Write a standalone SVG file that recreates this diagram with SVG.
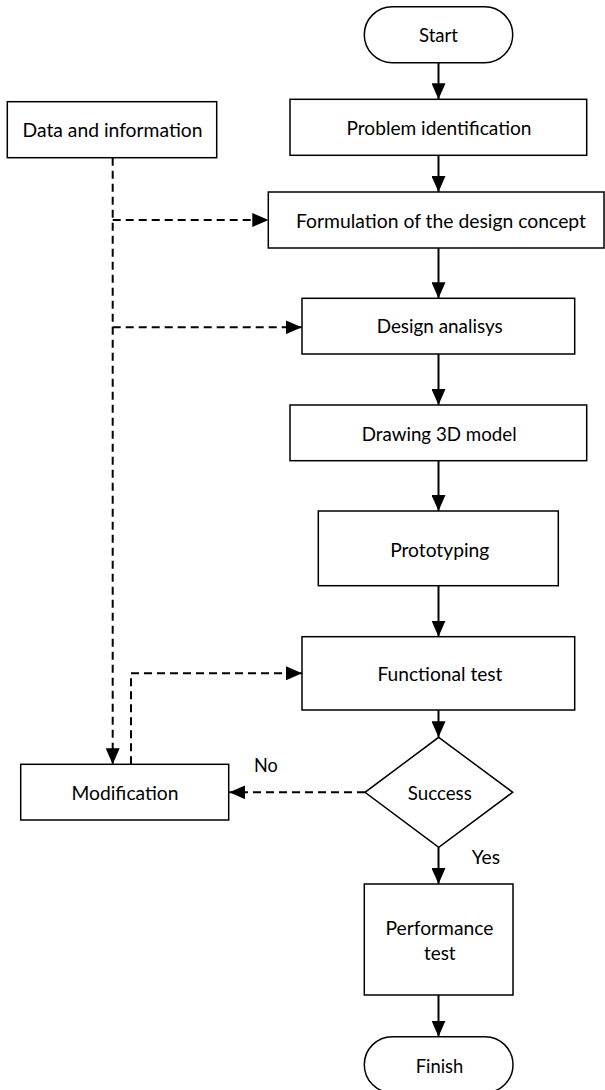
<svg xmlns="http://www.w3.org/2000/svg" width="605" height="1090" viewBox="0 0 605 1090">
<defs>
<style>
.box{fill:#fff;stroke:#000;stroke-width:1.5}
.t{font-family:Lato,"Liberation Sans",sans-serif;font-size:18.5px;fill:#000;text-anchor:middle}
.c{fill:none;stroke:#000;stroke-width:2}
.d{fill:none;stroke:#000;stroke-width:2;stroke-dasharray:8 5}
</style>
<marker id="ah" markerUnits="userSpaceOnUse" markerWidth="16" markerHeight="14" refX="16" refY="7" orient="auto">
<path d="M0,0 L16,7 L0,14 Z" fill="#000"/>
</marker>
</defs>
<rect width="605" height="1090" fill="#fff"/>
<g id="connectors">
<line class="c" x1="438.5" y1="62.7" x2="438.5" y2="99.3" marker-end="url(#ah)"/>
<line class="c" x1="438.5" y1="155.3" x2="438.5" y2="192" marker-end="url(#ah)"/>
<line class="c" x1="438.5" y1="248" x2="438.5" y2="298.3" marker-end="url(#ah)"/>
<line class="c" x1="438.5" y1="354" x2="438.5" y2="405" marker-end="url(#ah)"/>
<line class="c" x1="438.5" y1="460.7" x2="438.5" y2="511" marker-end="url(#ah)"/>
<line class="c" x1="438.5" y1="585.7" x2="438.5" y2="636.7" marker-end="url(#ah)"/>
<line class="c" x1="438.5" y1="710" x2="438.5" y2="737.3" marker-end="url(#ah)"/>
<line class="c" x1="438.5" y1="847.3" x2="438.5" y2="884" marker-end="url(#ah)"/>
<line class="c" x1="438.5" y1="995" x2="438.5" y2="1036.7" marker-end="url(#ah)"/>
<line class="d" x1="112.7" y1="157.7" x2="112.7" y2="764.3" marker-end="url(#ah)"/>
<line class="d" x1="112.7" y1="220" x2="268.3" y2="220" marker-end="url(#ah)"/>
<line class="d" x1="112.7" y1="327.3" x2="301.7" y2="327.3" marker-end="url(#ah)"/>
<polyline class="d" points="131,764.3 131,673.3 302,673.3" marker-end="url(#ah)"/>
<line class="d" x1="365" y1="792.3" x2="229.3" y2="792.3" marker-end="url(#ah)"/>
</g>
<g id="start"><rect class="box" x="364.3" y="6.7" width="148.4" height="56" rx="28" ry="28"/><text class="t" x="438.5" y="42" textLength="39" lengthAdjust="spacingAndGlyphs">Start</text></g>
<g id="problem"><rect class="box" x="290" y="99.3" width="296.7" height="56"/><text class="t" x="439" y="135" textLength="185" lengthAdjust="spacingAndGlyphs">Problem identification</text></g>
<g id="data"><rect class="box" x="7.3" y="101.7" width="209.4" height="56"/><text class="t" x="112.5" y="136.7" textLength="180" lengthAdjust="spacingAndGlyphs">Data and information</text></g>
<g id="formulation"><rect class="box" x="268.3" y="192" width="335.7" height="56"/><text class="t" x="441" y="227.7" textLength="290" lengthAdjust="spacingAndGlyphs">Formulation of the design concept</text></g>
<g id="design"><rect class="box" x="302" y="298.3" width="272.7" height="55.7"/><text class="t" x="439.7" y="333.3" textLength="126" lengthAdjust="spacingAndGlyphs">Design analisys</text></g>
<g id="drawing"><rect class="box" x="290" y="405" width="296.7" height="55.7"/><text class="t" x="439.2" y="441.3" textLength="155" lengthAdjust="spacingAndGlyphs">Drawing 3D model</text></g>
<g id="prototyping"><rect class="box" x="318.3" y="511" width="240" height="74.7"/><text class="t" x="439.7" y="556.7" textLength="99" lengthAdjust="spacingAndGlyphs">Prototyping</text></g>
<g id="functional"><rect class="box" x="302" y="636.7" width="272.7" height="73.3"/><text class="t" x="440" y="681.3" textLength="125" lengthAdjust="spacingAndGlyphs">Functional test</text></g>
<g id="success"><polygon class="box" points="438.7,737.3 512.7,792.3 438.7,847.3 365,792.3"/><text class="t" x="439.8" y="800" textLength="64" lengthAdjust="spacingAndGlyphs">Success</text></g>
<g id="modification"><rect class="box" x="20.7" y="764.3" width="208" height="55.7"/><text class="t" x="125" y="800" textLength="107" lengthAdjust="spacingAndGlyphs">Modification</text></g>
<g id="performance"><rect class="box" x="364.3" y="884" width="148.7" height="111"/><text class="t" x="439.5" y="935" textLength="108" lengthAdjust="spacingAndGlyphs">Performance</text><text class="t" x="439.8" y="960" textLength="31.7" lengthAdjust="spacingAndGlyphs">test</text></g>
<g id="finish"><rect class="box" x="364.3" y="1036.7" width="148.7" height="56" rx="28" ry="28"/><text class="t" x="439.5" y="1073.3" textLength="47.6" lengthAdjust="spacingAndGlyphs">Finish</text></g>
<g id="labels"><text class="t" x="265.8" y="772" textLength="23.7" lengthAdjust="spacingAndGlyphs">No</text><text class="t" x="485.8" y="864.3" textLength="28.3" lengthAdjust="spacingAndGlyphs">Yes</text></g>
</svg>
